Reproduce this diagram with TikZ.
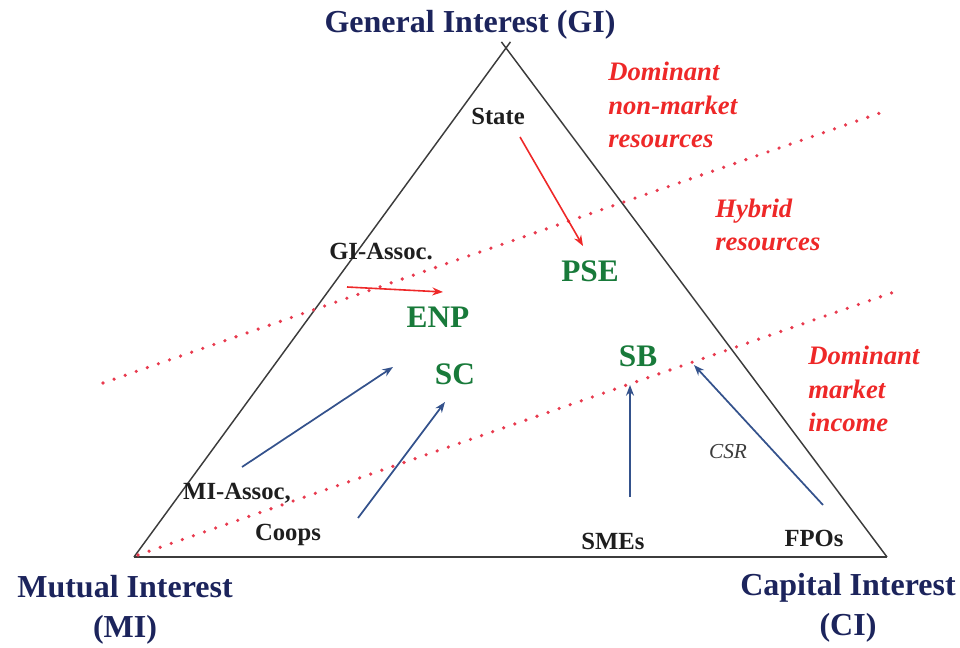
\documentclass[tikz,border=0pt]{standalone}
\usepackage{fontspec}
\setmainfont{Liberation Serif}
\usetikzlibrary{arrows.meta,calc}
\definecolor{navy}{RGB}{28,36,92}
\definecolor{tgreen}{RGB}{24,122,58}
\definecolor{tred}{RGB}{238,40,40}
\definecolor{tdot}{RGB}{232,58,78}
\definecolor{tblue}{RGB}{52,82,140}
\definecolor{tgrey}{RGB}{60,60,60}
\definecolor{tdark}{RGB}{30,30,30}
\begin{document}
\begin{tikzpicture}[x=0.75pt,y=-0.75pt,
  title/.style={inner sep=0pt, text=navy, font=\fontsize{24}{30}\selectfont\bfseries},
  corner/.style={inner sep=0pt, text=navy, align=center, font=\fontsize{24}{30}\selectfont\bfseries},
  actor/.style={inner sep=0pt, text=tdark, font=\fontsize{18.5}{22}\selectfont\bfseries},
  org/.style={inner sep=0pt, text=tgreen, font=\fontsize{23.5}{28}\selectfont\bfseries},
  zone/.style={inner sep=0pt, text=tred, align=left, font=\fontsize{20}{25}\selectfont\bfseries\itshape},
  note/.style={inner sep=0pt, text=tgrey, font=\fontsize{16}{20}\selectfont\itshape},
  border/.style={draw=tgrey, line width=1.1pt},
  divider/.style={draw=tdot, line width=2.7pt, line cap=round, dash pattern=on 0pt off 8.8pt},
  redarrow/.style={draw=tred, line width=1.2pt, -{Stealth[length=8pt,width=6pt]}},
  bluearrow/.style={draw=tblue, line width=1.3pt, -{Stealth[length=8pt,width=6pt]}}]
\useasboundingbox (0,0) rectangle (960,648);

% triangle
\coordinate (A) at (506,48);
\coordinate (L) at (134,557);
\coordinate (R) at (887,557);
\draw[border] (L) -- ($(L)!1.012!(A)$);
\draw[border] (R) -- ($(R)!1.012!(A)$);
\draw[border] (L) -- (R);

% dotted dividers
\coordinate (d1a) at (103,383);
\coordinate (d1b) at (880,113);
\coordinate (d2a) at (138,555);
\coordinate (d2b) at (900,290);
\draw[divider] (d1a) -- (d1b);
\draw[divider] (d2a) -- (d2b);

% titles
\node[title] (gi) at (470,25) {General Interest (GI)};
\node[corner] (mi) at (125,610) {Mutual Interest\\(MI)};
\node[corner] (ci) at (848,608) {Capital Interest\\(CI)};

% zone labels
\node[zone, anchor=west] (z1) at (608,105) {Dominant\\non-market\\resources};
\node[zone, anchor=west] (z2) at (715,225) {Hybrid\\resources};
\node[zone, anchor=west] (z3) at (808,389) {Dominant\\market\\income};

% actors
\node[actor] (state) at (498,116) {State};
\node[actor] (gia) at (381,252) {GI-Assoc.};
\node[actor] (mia) at (237,493) {MI-Assoc,};
\node[actor] (coops) at (288,535) {Coops};
\node[actor] (smes) at (613,541) {SMEs};
\node[actor] (fpos) at (814,538) {FPOs};
\node[note] (csr) at (728,452) {CSR};

% organisations
\node[org] (pse) at (590,271) {PSE};
\node[org] (enp) at (438,317) {ENP};
\node[org] (sc) at (455,374) {SC};
\node[org] (sb) at (638,356) {SB};

% arrows
\coordinate (stateS) at (520,137);
\coordinate (pseN) at (583,246);
\coordinate (giaS) at (347,287);
\coordinate (enpN) at (443,292);
\coordinate (miaN) at (242,467);
\coordinate (enpSW) at (393,367);
\coordinate (coopsN) at (358,518);
\coordinate (scS) at (445,402);
\coordinate (smesN) at (630,497);
\coordinate (sbS) at (630,385);
\coordinate (fposN) at (823,505);
\coordinate (sbE) at (694,365);
\draw[redarrow] (stateS) -- (pseN);
\draw[redarrow] (giaS) -- (enpN);
\draw[bluearrow] (miaN) -- (enpSW);
\draw[bluearrow] (coopsN) -- (scS);
\draw[bluearrow] (smesN) -- (sbS);
\draw[bluearrow] (fposN) -- (sbE);
\end{tikzpicture}
\end{document}
